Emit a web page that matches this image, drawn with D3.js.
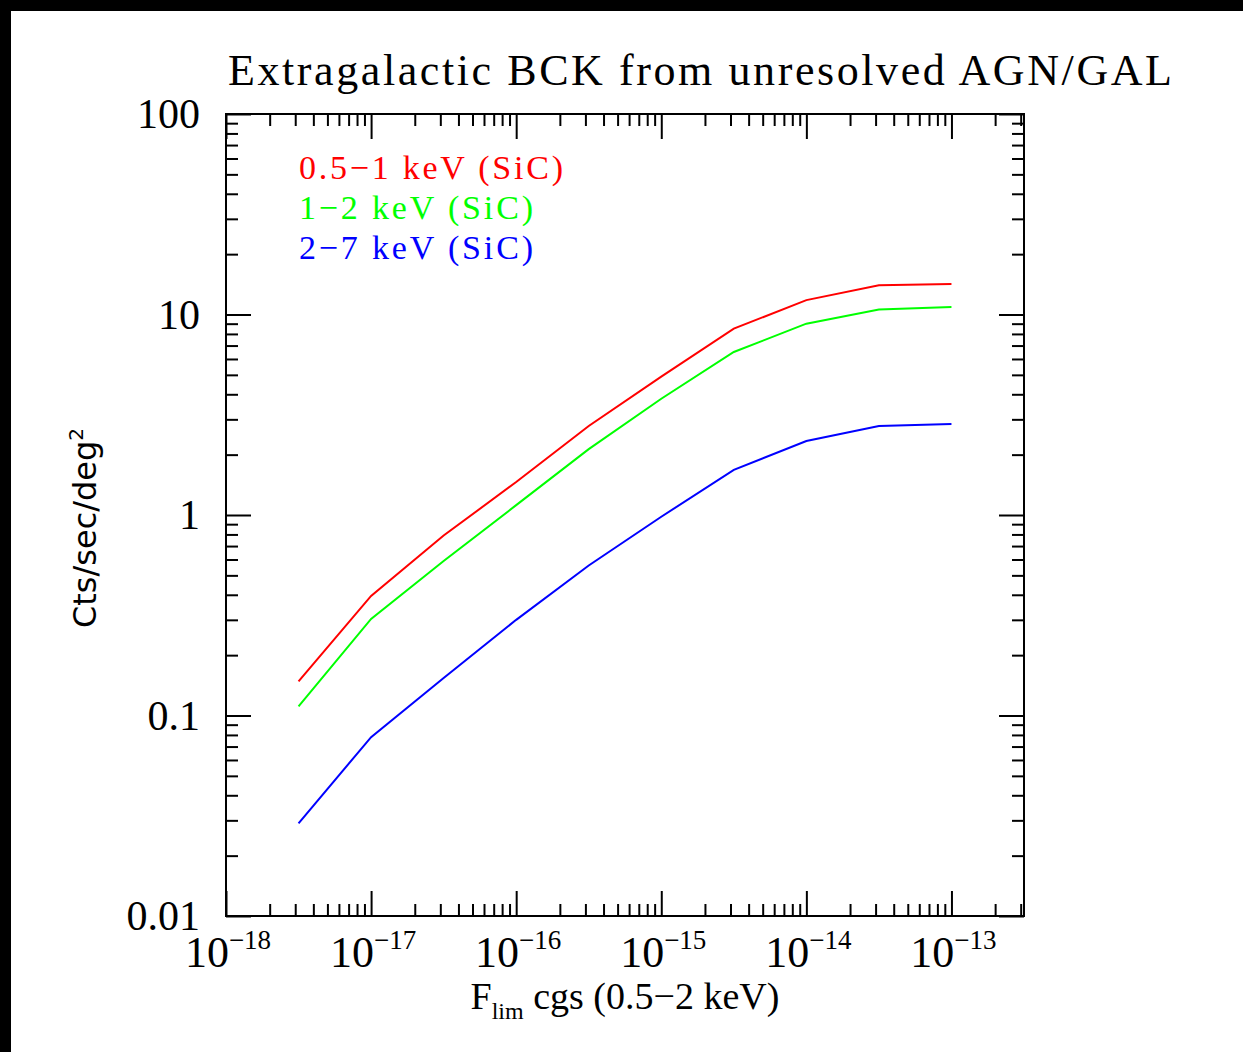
<!DOCTYPE html>
<html>
<head>
<meta charset="utf-8">
<script src="https://cdn.jsdelivr.net/npm/d3@7"></script>
<style>
  body { margin: 0; background: #fff; }
  svg { display: block; }
</style>
</head>
<body>
<div class="canvas"></div>
<script>
// log10 of F_lim for each computed point
const fluxLog = [-17.5, -17, -16.5, -16, -15.5, -15, -14.5, -14, -13.5, -13]
const soft = [0.148, 0.395, 0.79, 1.46, 2.78, 4.9, 8.5, 11.8, 14.0, 14.2]
const medium = [0.111, 0.303, 0.59, 1.12, 2.13, 3.8, 6.5, 9.0, 10.6, 10.9]
const hard = [0.029, 0.078, 0.154, 0.30, 0.56, 0.98, 1.68, 2.34, 2.78, 2.84]
const seriesNames = ['0.5\u22121 keV (SiC)', '1\u22122 keV (SiC)', '2\u22127 keV (SiC)']
const seriesColors = ['#ff0000', '#00ff00', '#0000ff']
const xTickExp = [-18, -17, -16, -15, -14, -13]
const yTickLabels = ['0.01', '0.1', '1', '10', '100']

const W = 1243, H = 1052
const margins = { top: 114, left: 226, right: 219, bottom: 136 }
const gWidth = W - margins.left - margins.right
const gHeight = H - margins.top - margins.bottom

const svg = d3.select('.canvas').append('svg').attr('width', W).attr('height', H)

// black strips top and left
svg.append('rect').attr('x', 0).attr('y', 0).attr('width', W).attr('height', 11).attr('fill', '#000')
svg.append('rect').attr('x', 0).attr('y', 0).attr('width', 11).attr('height', H).attr('fill', '#000')

const graph = svg.append('g').attr('transform', `translate(${margins.left}, ${margins.top})`)

const x = d3.scaleLog().domain([1e-18, Math.pow(10, -12.5)]).range([0, gWidth])
const y = d3.scaleLog().domain([0.01, 100]).range([gHeight, 0])

const xMajor = xTickExp.map(e => Math.pow(10, e))
const xMinor = []
xTickExp.forEach(e => { for (let k = 2; k <= 9; k++) { const v = k * Math.pow(10, e); if (v <= x.domain()[1]) xMinor.push(v) } })
const yMajor = yTickLabels.map(Number)
const yMinor = []
yMajor.slice(0, -1).forEach(v => { for (let k = 2; k <= 9; k++) yMinor.push(k * v) })

const axisStyle = g => {
    g.select('.domain').remove()
    g.selectAll('line').attr('stroke', '#000').attr('stroke-width', 2)
    g.selectAll('text').remove()
}

// ticks on all four sides, pointing inward
const sides = [
    { axis: d3.axisTop, scale: x, t: `translate(0, ${gHeight})`, major: xMajor, minor: xMinor },
    { axis: d3.axisBottom, scale: x, t: 'translate(0, 0)', major: xMajor, minor: xMinor },
    { axis: d3.axisRight, scale: y, t: 'translate(0, 0)', major: yMajor, minor: yMinor },
    { axis: d3.axisLeft, scale: y, t: `translate(${gWidth}, 0)`, major: yMajor, minor: yMinor }
]
sides.forEach(s => {
    graph.append('g').attr('transform', s.t).call(s.axis(s.scale).tickValues(s.major).tickSize(25).tickFormat('')).call(axisStyle)
    graph.append('g').attr('transform', s.t).call(s.axis(s.scale).tickValues(s.minor).tickSize(12).tickFormat('')).call(axisStyle)
})

graph.append('rect').attr('width', gWidth).attr('height', gHeight)
    .attr('fill', 'none').attr('stroke', '#000').attr('stroke-width', 2)

// lines
const line = d3.line().x(d => x(Math.pow(10, d[0]))).y(d => y(d[1]))
;[soft, medium, hard].forEach((vals, i) => {
    graph.append('path')
        .datum(fluxLog.map((f, j) => [f, vals[j]]))
        .attr('fill', 'none')
        .attr('stroke', seriesColors[i])
        .attr('stroke-width', 2)
        .attr('d', line)
})

const font = 'Liberation Serif, DejaVu Serif, serif'

// y tick labels
graph.selectAll('.ylab').data(yMajor).enter().append('text')
    .attr('x', -26).attr('y', d => y(d) + 14)
    .attr('text-anchor', 'end')
    .attr('font-family', font).attr('font-size', 42)
    .text((d, i) => yTickLabels[i])

// x tick labels 10^n
const xl = graph.selectAll('.xlab').data(xTickExp).enter().append('text')
    .attr('x', d => x(Math.pow(10, d)) + 2)
    .attr('y', gHeight + 51)
    .attr('text-anchor', 'middle')
    .attr('font-family', font).attr('font-size', 44)
xl.append('tspan').text('10')
xl.append('tspan').attr('dy', -18).attr('font-size', 27).text(d => '\u2212' + Math.abs(d))

// legend
seriesNames.forEach((n, i) => {
    graph.append('text')
        .attr('x', 73).attr('y', 65 + i * 40)
        .attr('font-family', font).attr('font-size', 34)
        .attr('fill', seriesColors[i])
        .attr('textLength', i === 0 ? 264 : 234)
        .attr('lengthAdjust', 'spacing')
        .text(n)
})

// title
svg.append('text')
    .attr('x', 228).attr('y', 85)
    .attr('font-family', font).attr('font-size', 44)
    .attr('textLength', 944).attr('lengthAdjust', 'spacing')
    .text('Extragalactic BCK from unresolved AGN/GAL')

// x label
const xt = svg.append('text')
    .attr('x', 625).attr('y', 1009)
    .attr('text-anchor', 'middle')
    .attr('font-family', font).attr('font-size', 38)
xt.append('tspan').text('F')
xt.append('tspan').attr('dy', 10).attr('font-size', 24).text('lim')
xt.append('tspan').attr('dy', -10).text(' cgs (0.5\u22122 keV)')

// y label
const yt = svg.append('text')
    .attr('transform', 'translate(96, 528) rotate(-90)')
    .attr('text-anchor', 'middle')
    .attr('font-family', 'DejaVu Sans, sans-serif').attr('font-size', 32)
yt.append('tspan').text('Cts/sec/deg')
yt.append('tspan').attr('dy', -13).attr('font-size', 20).text('2')
</script>
</body>
</html>
